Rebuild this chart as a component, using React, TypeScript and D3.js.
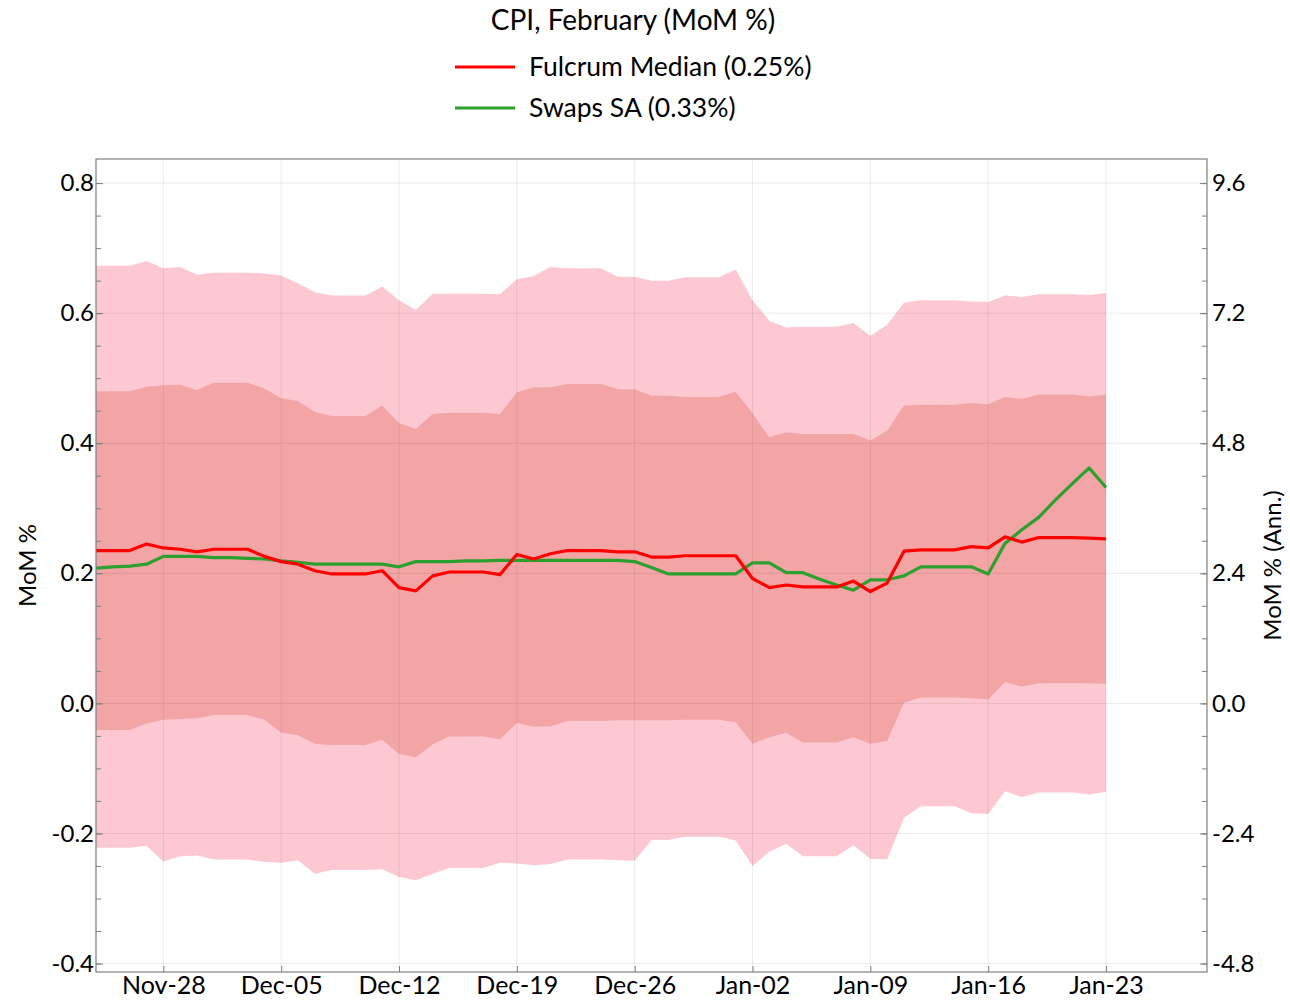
import React, { useRef, useEffect } from 'react';
import * as d3 from 'd3';

// daily points, 2022-11-24 .. 2023-01-23
const START = new Date(Date.UTC(2022, 10, 24));
const END = new Date(Date.UTC(2023, 0, 24));

const outerHi = [0.673, 0.673, 0.673, 0.680, 0.669, 0.671, 0.659, 0.662, 0.662, 0.662, 0.661,
  0.658, 0.646, 0.632, 0.627, 0.627, 0.627, 0.641, 0.620, 0.605, 0.630,
  0.630, 0.630, 0.630, 0.629, 0.652, 0.657, 0.671, 0.669, 0.669, 0.669,
  0.656, 0.656, 0.650, 0.650, 0.655, 0.655, 0.655, 0.667, 0.620, 0.588,
  0.578, 0.579, 0.579, 0.579, 0.585, 0.565, 0.582, 0.616, 0.620, 0.620,
  0.620, 0.618, 0.617, 0.627, 0.625, 0.629, 0.629, 0.629, 0.628, 0.631];

const innerHi = [0.480, 0.480, 0.480, 0.487, 0.489, 0.490, 0.482, 0.493, 0.493, 0.493, 0.484,
  0.469, 0.465, 0.448, 0.442, 0.442, 0.442, 0.458, 0.431, 0.422, 0.445,
  0.447, 0.447, 0.447, 0.445, 0.478, 0.486, 0.486, 0.491, 0.491, 0.491,
  0.483, 0.483, 0.473, 0.473, 0.471, 0.471, 0.471, 0.479, 0.446, 0.409,
  0.417, 0.414, 0.414, 0.414, 0.414, 0.404, 0.419, 0.458, 0.459, 0.459,
  0.459, 0.462, 0.460, 0.471, 0.468, 0.475, 0.475, 0.475, 0.472, 0.474];

const innerLo = [-0.041, -0.041, -0.041, -0.031, -0.025, -0.024, -0.023, -0.018, -0.018, -0.018, -0.025,
  -0.045, -0.049, -0.062, -0.064, -0.064, -0.064, -0.056, -0.078, -0.083, -0.063,
  -0.051, -0.051, -0.051, -0.055, -0.030, -0.036, -0.035, -0.027, -0.027, -0.027,
  -0.026, -0.026, -0.026, -0.026, -0.025, -0.025, -0.025, -0.029, -0.062, -0.052,
  -0.045, -0.060, -0.060, -0.060, -0.052, -0.062, -0.058, 0.001, 0.009, 0.009,
  0.009, 0.008, 0.006, 0.033, 0.026, 0.031, 0.031, 0.031, 0.031, 0.030];

const outerLo = [-0.222, -0.222, -0.222, -0.219, -0.243, -0.235, -0.234, -0.240, -0.240, -0.240, -0.244,
  -0.245, -0.241, -0.262, -0.256, -0.256, -0.256, -0.255, -0.267, -0.272, -0.262,
  -0.253, -0.253, -0.253, -0.245, -0.246, -0.249, -0.247, -0.240, -0.240, -0.240,
  -0.241, -0.242, -0.210, -0.210, -0.205, -0.205, -0.205, -0.211, -0.250, -0.228,
  -0.216, -0.235, -0.235, -0.235, -0.218, -0.239, -0.240, -0.176, -0.158, -0.158,
  -0.158, -0.169, -0.170, -0.135, -0.144, -0.137, -0.137, -0.137, -0.140, -0.136];

const median = [0.235, 0.235, 0.235, 0.245, 0.239, 0.237, 0.233, 0.237, 0.237, 0.237, 0.226,
  0.218, 0.214, 0.204, 0.199, 0.199, 0.199, 0.204, 0.178, 0.173, 0.196,
  0.202, 0.202, 0.202, 0.198, 0.229, 0.222, 0.230, 0.235, 0.235, 0.235,
  0.233, 0.233, 0.225, 0.225, 0.227, 0.227, 0.227, 0.227, 0.192, 0.178,
  0.182, 0.179, 0.179, 0.179, 0.188, 0.172, 0.185, 0.234, 0.236, 0.236,
  0.236, 0.241, 0.239, 0.256, 0.248, 0.255, 0.255, 0.255, 0.254, 0.253];

const swaps = [0.208, 0.210, 0.211, 0.214, 0.226, 0.226, 0.226, 0.224, 0.224, 0.223, 0.222,
  0.219, 0.217, 0.214, 0.214, 0.214, 0.214, 0.214, 0.210, 0.218, 0.218,
  0.218, 0.219, 0.219, 0.220, 0.220, 0.220, 0.220, 0.220, 0.220, 0.220,
  0.220, 0.218, 0.209, 0.199, 0.199, 0.199, 0.199, 0.199, 0.216, 0.216,
  0.201, 0.201, 0.191, 0.182, 0.174, 0.190, 0.190, 0.196, 0.210, 0.210,
  0.210, 0.210, 0.199, 0.246, 0.267, 0.286, 0.313, 0.338, 0.362, 0.332];

const xTickDates = ['2022-11-28', '2022-12-05', '2022-12-12', '2022-12-19', '2022-12-26',
  '2023-01-02', '2023-01-09', '2023-01-16', '2023-01-23'];
const xTickLabels = ['Nov-28', 'Dec-05', 'Dec-12', 'Dec-19', 'Dec-26', 'Jan-02', 'Jan-09', 'Jan-16', 'Jan-23'];
const yTicks = [-0.4, -0.2, 0, 0.2, 0.4, 0.6, 0.8];
const yAnnTicks = [-4.8, -2.4, 0, 2.4, 4.8, 7.2, 9.6];

const W = 1290, H = 1003;
const PLOT = { left: 96, right: 1207, top: 159, bottom: 972 };
const FONT = 'Lato, "Open Sans", sans-serif';

const fmt1 = v => d3.format('.1f')(v).replace('\u2212', '-');

export default function App() {
  const svgRef = useRef(null);

  useEffect(() => {
    const svg = d3.select(svgRef.current);
    svg.selectAll('*').remove();

    const dates = d3.utcDay.range(START, END);
    const rows = dates.map((d, i) => ({
      date: d, oHi: outerHi[i], iHi: innerHi[i], iLo: innerLo[i], oLo: outerLo[i],
      med: median[i], swp: swaps[i],
    }));

    const x = d3.scaleUtc()
      .domain([START, new Date(Date.UTC(2023, 0, 29))])
      .range([PLOT.left, PLOT.right]);
    const yDom = [-0.413, 0.837];
    const y = d3.scaleLinear().domain(yDom).range([PLOT.bottom, PLOT.top]);
    const yAnn = d3.scaleLinear().domain([yDom[0] * 12, yDom[1] * 12]).range([PLOT.bottom, PLOT.top]);

    // bands
    const band = (lo, hi) => d3.area().x(d => x(d.date)).y0(d => y(d[lo])).y1(d => y(d[hi]));
    svg.append('path').datum(rows).attr('d', band('oLo', 'oHi')).attr('fill', '#fdc8d1');
    svg.append('path').datum(rows).attr('d', band('iLo', 'iHi')).attr('fill', '#f3a5a6');

    // grid
    const grid = svg.append('g').attr('stroke', '#000').attr('stroke-opacity', 0.08).attr('stroke-width', 1);
    grid.selectAll('.gy').data(yTicks).join('line')
      .attr('x1', PLOT.left).attr('x2', PLOT.right)
      .attr('y1', d => y(d)).attr('y2', d => y(d));
    const tickDates = xTickDates.map(s => new Date(s + 'T00:00:00Z'));
    grid.selectAll('.gx').data(tickDates).join('line')
      .attr('x1', d => x(d)).attr('x2', d => x(d))
      .attr('y1', PLOT.top).attr('y2', PLOT.bottom);

    // lines
    const line = key => d3.line().x(d => x(d.date)).y(d => y(d[key]));
    svg.append('path').datum(rows).attr('d', line('swp'))
      .attr('fill', 'none').attr('stroke', '#2ca02c').attr('stroke-width', 3.2).attr('stroke-linejoin', 'round');
    svg.append('path').datum(rows).attr('d', line('med'))
      .attr('fill', 'none').attr('stroke', '#ff0000').attr('stroke-width', 3.2).attr('stroke-linejoin', 'round');

    // frame
    svg.append('rect')
      .attr('x', PLOT.left).attr('y', PLOT.top)
      .attr('width', PLOT.right - PLOT.left).attr('height', PLOT.bottom - PLOT.top)
      .attr('fill', 'none').attr('stroke', '#7f7f7f').attr('stroke-width', 1.2);

    // axes (ticks point inward)
    const styleAxis = a => {
      a.select('.domain').remove();
      a.selectAll('line').attr('stroke', '#7f7f7f');
      a.selectAll('text').attr('fill', '#000').attr('font-size', 24).attr('font-family', FONT);
    };
    const minor = d3.range(-0.4, 0.8001, 0.05);

    svg.append('g').attr('transform', `translate(${PLOT.left},0)`)
      .call(d3.axisLeft(y).tickValues(minor).tickSize(-5).tickFormat(() => ''))
      .call(styleAxis);
    svg.append('g').attr('transform', `translate(${PLOT.left},0)`)
      .call(d3.axisLeft(y).tickValues(yTicks).tickSize(-7).tickFormat(fmt1))
      .call(styleAxis)
      .call(a => a.selectAll('text').attr('x', -2));

    svg.append('g').attr('transform', `translate(${PLOT.right},0)`)
      .call(d3.axisRight(yAnn).tickValues(minor.map(v => v * 12)).tickSize(-5).tickFormat(() => ''))
      .call(styleAxis);
    svg.append('g').attr('transform', `translate(${PLOT.right},0)`)
      .call(d3.axisRight(yAnn).tickValues(yAnnTicks).tickSize(-7).tickFormat(fmt1))
      .call(styleAxis)
      .call(a => a.selectAll('text').attr('x', 5));

    svg.append('g').attr('transform', `translate(0,${PLOT.bottom})`)
      .call(d3.axisBottom(x).tickValues(tickDates).tickSize(-6)
        .tickFormat((d, i) => xTickLabels[i]))
      .call(styleAxis)
      .call(a => a.selectAll('text').attr('y', 4).attr('font-size', 25));

    // axis titles
    svg.append('text')
      .attr('transform', `translate(36,${(PLOT.top + PLOT.bottom) / 2}) rotate(-90)`)
      .attr('text-anchor', 'middle').attr('font-size', 24).attr('font-family', FONT)
      .text('MoM %');
    svg.append('text')
      .attr('transform', `translate(1281,${(PLOT.top + PLOT.bottom) / 2}) rotate(-90)`)
      .attr('text-anchor', 'middle').attr('font-size', 24).attr('font-family', FONT)
      .text('MoM % (Ann.)');

    // title + legend
    svg.append('text').attr('x', 633).attr('y', 30)
      .attr('text-anchor', 'middle').attr('font-size', 28).attr('font-family', FONT)
      .text('CPI, February (MoM %)');
    const legend = [
      { label: 'Fulcrum Median (0.25%)', color: '#ff0000' },
      { label: 'Swaps SA (0.33%)', color: '#2ca02c' },
    ];
    const lg = svg.append('g');
    legend.forEach((l, i) => {
      const ly = 67 + i * 41;
      lg.append('line').attr('x1', 455).attr('x2', 515).attr('y1', ly).attr('y2', ly)
        .attr('stroke', l.color).attr('stroke-width', 3.2);
      lg.append('text').attr('x', 529).attr('y', ly + 9)
        .attr('font-size', 26.5).attr('font-family', FONT).text(l.label);
    });
  }, []);

  return (
    <svg ref={svgRef} width={W} height={H}
      style={{ position: 'absolute', left: 0, top: 0, background: '#fff' }} />
  );
}
